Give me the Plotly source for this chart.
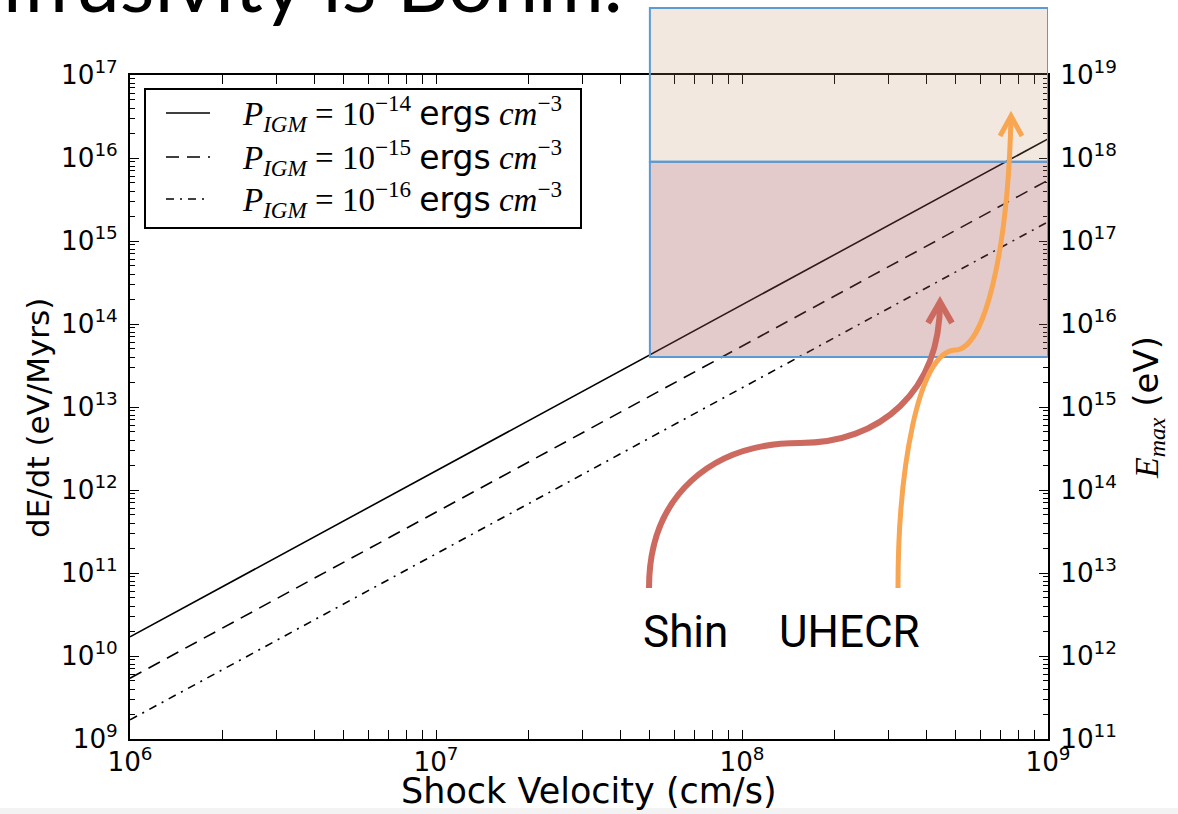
import math
import plotly.graph_objects as go

# Shock velocity (cm/s) and energy gain rate dE/dt (eV/Myr) for three IGM pressures
velocity = [1e6, 1e9]
dEdt_p14 = [1.7e10, 1.7e16]
dEdt_p15 = [5.4e9, 5.4e15]
dEdt_p16 = [1.7e9, 1.7e15]
pressure_exponents = ["−14", "−15", "−16"]
line_dashes = ["solid", "13px,8px", "8px,6px,2px,6px"]

# E_max bands (eV) spanning the fast-shock velocity range
band_velocity = [5e7, 1e9]
shin_emax = [4e15, 9e17]
uhecr_emax_floor = 9e17

# Axis ranges (log10)
x_range = [6, 9]
y_range = [9, 17]
emax_range = [11, 19]

W, H = 1178, 814
ML, MR, MT, MB = 130, 130, 75, 75
PW, PH = W - ML - MR, H - MT - MB


def px(x, y):
    """Pixel position -> paper coordinates."""
    return (x - ML) / PW, (H - MB - y) / PH


def emax_paper(v):
    return (math.log10(v) - emax_range[0]) / (emax_range[1] - emax_range[0])


def svg_path(segments):
    out = []
    for cmd, pts in segments:
        if cmd == "L":
            out.extend("L %.5f,%.5f" % px(x, y) for x, y in pts)
        else:
            out.append(cmd + " " + " ".join("%.5f,%.5f" % px(x, y) for x, y in pts))
    return " ".join(out)


def note(x, y, text, **kw):
    ax, ay = px(x, y)
    d = dict(xref="paper", yref="paper", x=ax, y=ay, showarrow=False, text=text,
             xanchor="center", yanchor="middle")
    d.update(kw)
    return d


fig = go.Figure()
for ys, dash in zip([dEdt_p14, dEdt_p15, dEdt_p16], line_dashes):
    fig.add_trace(go.Scatter(x=velocity, y=ys, mode="lines",
                             line=dict(color="black", width=1.6, dash=dash),
                             showlegend=False, hoverinfo="skip"))
# anchors the E_max axis
fig.add_trace(go.Scatter(x=band_velocity, y=shin_emax, yaxis="y2", mode="none",
                         showlegend=False, hoverinfo="skip"))

tickfont = dict(family="DejaVu Sans", size=21, color="black")
common = dict(type="log", dtick=1, exponentformat="power", showgrid=False,
              zeroline=False, ticks="inside", ticklen=9, tickwidth=1.2,
              tickcolor="black", showline=True, linewidth=2, linecolor="black",
              tickfont=tickfont,
              minor=dict(ticks="inside", ticklen=5, tickwidth=1,
                         tickcolor="black", dtick="D1", showgrid=False))

fig.update_layout(
    width=W, height=H,
    margin=dict(l=ML, r=MR, t=MT, b=MB, autoexpand=False),
    paper_bgcolor="white", plot_bgcolor="white",
    xaxis=dict(range=x_range, mirror="allticks", ticklabelstandoff=0, **common),
    yaxis=dict(range=y_range, ticklabelstandoff=6, **common),
    yaxis2=dict(range=emax_range, overlaying="y", side="right",
                ticklabelstandoff=6, **common),
)

shapes = []
# slide edge strip
x0, y0 = px(0, 808)
x1, y1 = px(W, H)
shapes.append(dict(type="rect", xref="paper", yref="paper", x0=x0, x1=x1,
                   y0=y0, y1=y1, fillcolor="#F3F3F3", line=dict(width=0),
                   layer="below"))
# UHECR band (extends above the axes)
shapes.append(dict(type="rect", xref="x", yref="paper",
                   x0=band_velocity[0], x1=band_velocity[1],
                   y0=emax_paper(uhecr_emax_floor), y1=px(0, 8)[1],
                   fillcolor="rgba(190,140,100,0.2)",
                   line=dict(color="#5B9BD5", width=2), layer="above"))
# Shin band
shapes.append(dict(type="rect", xref="x", yref="y2",
                   x0=band_velocity[0], x1=band_velocity[1],
                   y0=shin_emax[0], y1=shin_emax[1],
                   fillcolor="rgba(162,82,82,0.3)",
                   line=dict(color="#5B9BD5", width=2), layer="above"))

# legend frame and samples
lx0, ly0 = px(145, 89)
lx1, ly1 = px(581, 228)
shapes.append(dict(type="rect", xref="paper", yref="paper", x0=lx0, x1=lx1,
                   y0=ly1, y1=ly0, fillcolor="white",
                   line=dict(color="black", width=2), layer="above"))
legend_rows = [113, 157, 199]
annotations = []
for row, dash, ex in zip(legend_rows, line_dashes, pressure_exponents):
    a, b = px(166, row)
    c, _ = px(210, row)
    shapes.append(dict(type="line", xref="paper", yref="paper", x0=a, x1=c,
                       y0=b, y1=b, line=dict(color="black", width=1.6, dash=dash),
                       layer="above"))
    annotations.append(note(
        240, row,
        ("<i>P</i><sub><i>IGM</i></sub> = 10<sup>" + ex + "</sup> "
         "<span style=\"font-family:DejaVu Sans\">ergs</span> "
         "<i>cm</i><sup>−3</sup>"),
        xanchor="left",
        font=dict(family="Liberation Serif", size=33, color="black")))

# curved arrows
red_path = svg_path([("M", [(649, 588)]),
                     ("C", [(649, 495), (712, 443), (800, 443)]),
                     ("C", [(880, 443), (940, 392), (940, 302)])])
red_head = svg_path([("M", [(928, 323)]), ("L", [(940, 302), (952, 323)])])
orange_path = svg_path([("M", [(898, 588)]),
                        ("C", [(898, 470), (918, 352), (955, 350)]),
                        ("C", [(985, 350), (1008, 250), (1011, 117)])])
orange_head = svg_path([("M", [(1000, 136)]), ("L", [(1011, 116), (1022, 136)])])
for p, col, w in [(red_path, "#CD6A60", 6), (red_head, "#CD6A60", 6),
                  (orange_path, "#F9A652", 5), (orange_head, "#F9A652", 5)]:
    shapes.append(dict(type="path", xref="paper", yref="paper", path=p,
                       line=dict(color=col, width=w), layer="above"))

# axis titles and labels
annotations.append(note(38, 418, "dE/dt (eV/Myrs)", textangle=-90,
                        font=dict(family="DejaVu Sans", size=31, color="black")))
annotations.append(note(589, 791, "Shock Velocity (cm/s)",
                        font=dict(family="DejaVu Sans", size=35, color="black")))
annotations.append(note(1148, 408,
                        ("<span style=\"font-family:Liberation Serif\"><i>E</i>"
                         "<sub><i>max</i></sub></span> (eV)"),
                        textangle=-90,
                        font=dict(family="DejaVu Sans", size=34, color="black")))
for label, (x, y) in [("Shin", (685, 632)), ("UHECR", (849, 632))]:
    annotations.append(note(x, y, label,
                            font=dict(family="Roboto", size=44, color="black")))
# slide heading, clipped by the top edge
annotations.append(note(625, 31, "diffusivity is Bohm.", xanchor="right",
                        yanchor="bottom",
                        font=dict(family="Lato", size=80, color="black")))

fig.update_layout(shapes=shapes, annotations=annotations)
fig.write_html("out.html")
